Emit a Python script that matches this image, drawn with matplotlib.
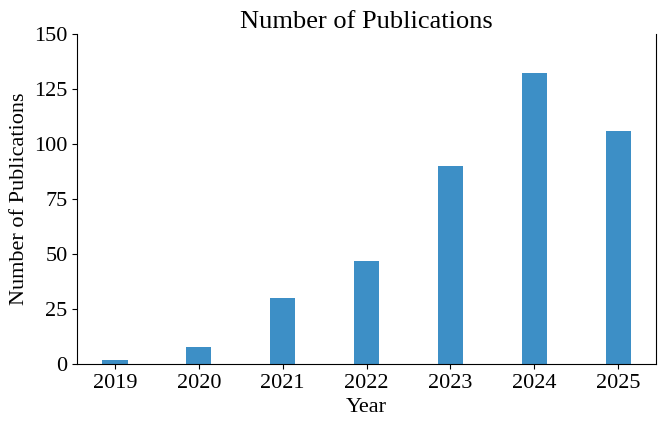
import matplotlib
matplotlib.use("Agg")
import matplotlib.pyplot as plt

years = ["2019", "2020", "2021", "2022", "2023", "2024", "2025"]
counts = [2, 8, 30, 47, 90, 132, 106]

plt.rcParams["font.family"] = ["Liberation Serif", "DejaVu Serif"]

fig, ax = plt.subplots(figsize=(6.72, 4.34), dpi=100)
ax.bar(range(len(years)), counts, width=0.3, color="#3d8fc6")
ax.set_xticks(range(len(years)))
ax.set_xticklabels(years)
ax.set_xlim(-0.45, len(years) - 0.55)
ax.set_ylim(0, 150)
ax.set_yticks(range(0, 151, 25))
ax.tick_params(labelsize=16)
ax.set_title("Number of Publications", fontsize=19, pad=4)
ax.set_xlabel("Year", fontsize=16)
ax.set_ylabel("Number of Publications", fontsize=16)
ax.spines["top"].set_visible(False)
fig.subplots_adjust(left=0.115, right=0.976, top=0.922, bottom=0.161)
fig.savefig("out.png", dpi=100)
